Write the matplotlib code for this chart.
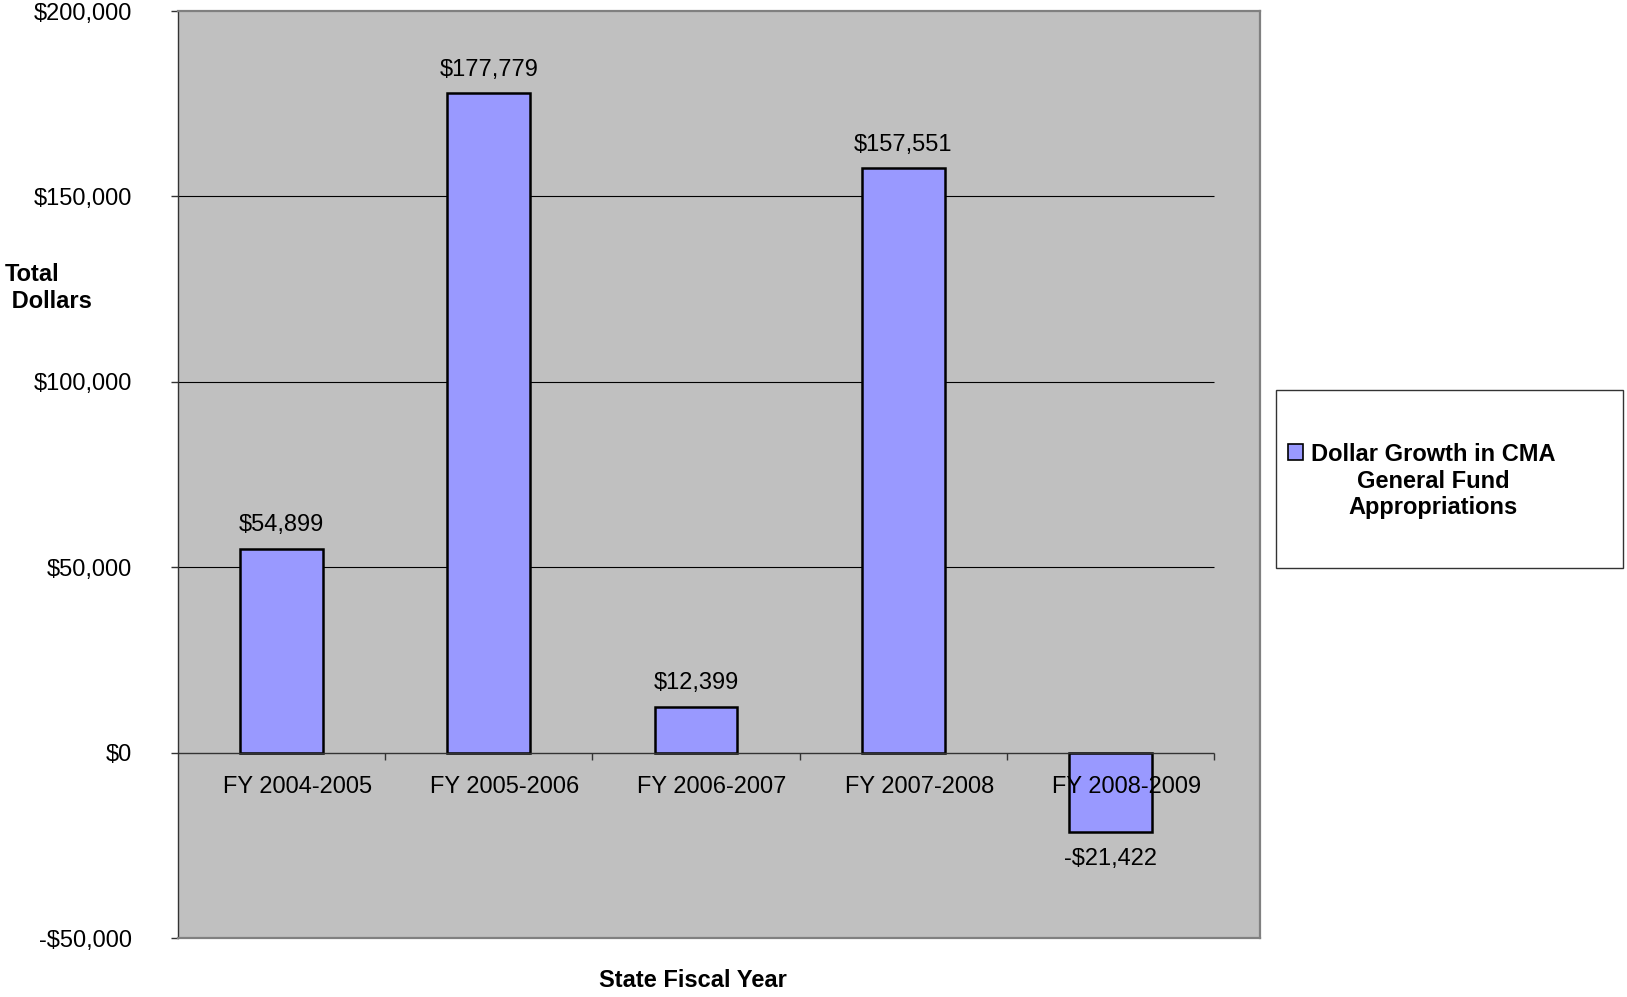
import numpy as np
import matplotlib
matplotlib.use('Agg')
import matplotlib.pyplot as plt
from matplotlib.patches import Rectangle

plt.rcParams['font.family'] = ['Liberation Sans', 'DejaVu Sans']

years = ['FY 2004-2005', 'FY 2005-2006', 'FY 2006-2007', 'FY 2007-2008', 'FY 2008-2009']
growth = [54899, 177779, 12399, 157551, -21422]
yticks = [-50000, 0, 50000, 100000, 150000, 200000]
series_name = 'Dollar Growth in CMA\nGeneral Fund\nAppropriations'

W, H = 1627, 997
bar_color = '#9999FF'
fsz = 17

def fx(px):
	return px / W

def fy(py):
	return 1 - py / H

def money(v):
	if v < 0:
		return '-${:,}'.format(-v)
	return '${:,}'.format(v)

fig = plt.figure(figsize=(W / 100, H / 100), dpi=100)
ax = fig.add_axes([fx(178), fy(938), fx(1260) - fx(178), fy(11) - fy(938)])
ax.set_facecolor('#C0C0C0')

x = np.arange(len(years))
ax.set_xlim(-0.5, 4.722)
ax.set_ylim(-50000, 200000)

# gridlines only over the category area
ax.hlines([50000, 100000, 150000], -0.5, len(years) - 0.5, color='black', lw=0.8, zorder=1)
ax.hlines(0, -0.5, len(years) - 0.5, color='#333333', lw=1.0, zorder=3)
ax.plot(x + 0.5, np.zeros(len(x)), ls='none', marker=3, ms=5, mew=1, color='#333333', zorder=3)

ax.bar(x, growth, width=0.4, color=bar_color, edgecolor='black', lw=1.8, zorder=2)

for xi, v in zip(x, growth):
	off = 17 if v >= 0 else -19.5
	ax.annotate(money(v), (xi, v), xytext=(0, off), textcoords='offset points',
		ha='center', va='center', fontsize=fsz, zorder=5)

for xi, lab in zip(x, years):
	ax.annotate(lab, (xi, 0), xytext=(11.5, -25), textcoords='offset points',
		ha='center', va='center', fontsize=fsz, zorder=5)

ax.set_xticks([])
ax.set_yticks(yticks)
ax.set_yticklabels([money(v) for v in yticks], fontsize=fsz)
ax.tick_params(axis='y', direction='out', length=5, width=1, color='#333333', pad=28)

for s in ['top', 'right', 'bottom']:
	ax.spines[s].set_color('#808080')
	ax.spines[s].set_linewidth(1.6)
ax.spines['left'].set_color('#333333')
ax.spines['left'].set_linewidth(1.0)

# axis titles
fig.text(fx(5), fy(288), 'Total\n Dollars', ha='left', va='center', fontsize=fsz,
	fontweight='bold', linespacing=1.2)
fig.text(fx(693), fy(980), 'State Fiscal Year', ha='center', va='center', fontsize=fsz,
	fontweight='bold')

# legend box
fig.add_artist(Rectangle((fx(1276), fy(568)), fx(1623) - fx(1276), fy(390) - fy(568),
	transform=fig.transFigure, facecolor='white', edgecolor='#333333', lw=1))
fig.add_artist(Rectangle((fx(1288), fy(460)), fx(1303) - fx(1288), fy(444) - fy(460),
	transform=fig.transFigure, facecolor=bar_color, edgecolor='black', lw=1.2))
fig.text(fx(1433), fy(481), series_name, ha='center', va='center', multialignment='center',
	fontsize=fsz, fontweight='bold', linespacing=1.17)

fig.savefig('out.png', dpi=100)
